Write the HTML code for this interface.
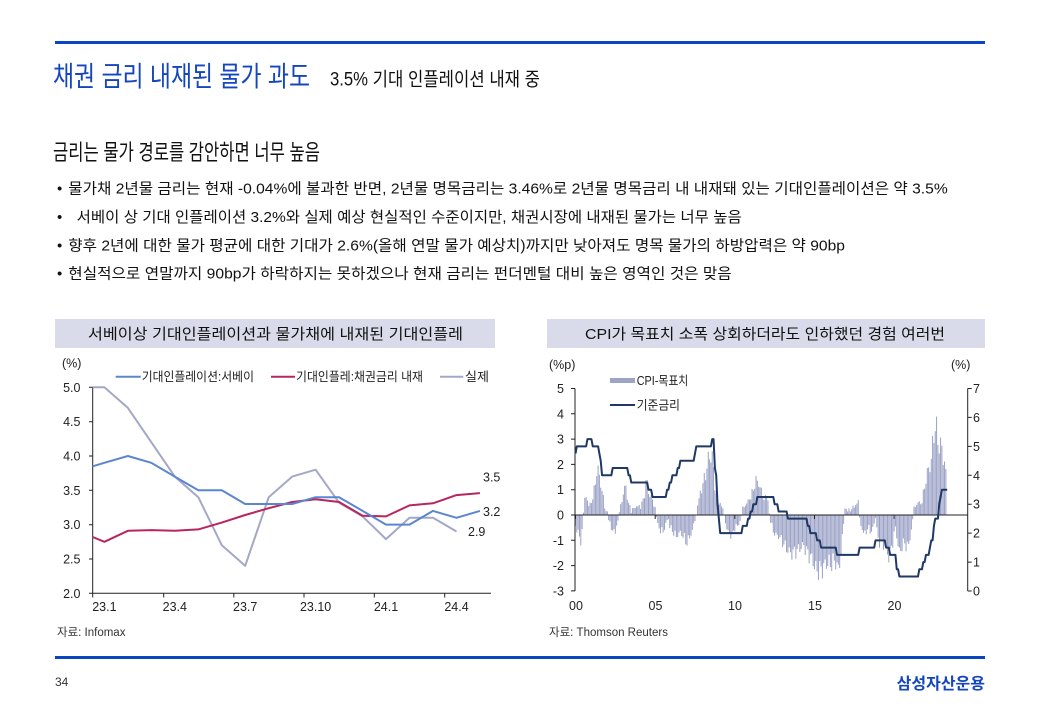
<!DOCTYPE html>
<html><head><meta charset="utf-8"><style>
html,body{margin:0;padding:0;background:#fff;}
svg{display:block;font-family:"Liberation Sans","Noto Sans CJK KR",sans-serif;}
</style></head><body>
<svg width="1040" height="720" viewBox="0 0 1040 720" xmlns="http://www.w3.org/2000/svg">
<rect width="1040" height="720" fill="#fff"/>
<rect x="55" y="41" width="930" height="3" fill="#0a45c3"/>
<text x="53" y="86" font-size="28" fill="#1446bd" textLength="257" lengthAdjust="spacingAndGlyphs">채권 금리 내재된 물가 과도</text>
<text x="330" y="85.5" font-size="19" fill="#111" textLength="210" lengthAdjust="spacingAndGlyphs">3.5% 기대 인플레이션 내재 중</text>
<text x="53" y="160" font-size="22" fill="#111" textLength="267" lengthAdjust="spacingAndGlyphs">금리는 물가 경로를 감안하면 너무 높음</text>

<g font-size="15" fill="#111">
<text x="57" y="193.7">•</text>
<text x="68.3" y="193.7" textLength="879.4" lengthAdjust="spacingAndGlyphs">물가채 2년물 금리는 현재 -0.04%에 불과한 반면, 2년물 명목금리는 3.46%로 2년물 명목금리 내 내재돼 있는 기대인플레이션은 약 3.5%</text>
<text x="57" y="222">•</text>
<text x="76.7" y="222" textLength="665" lengthAdjust="spacingAndGlyphs">서베이 상 기대 인플레이션 3.2%와 실제 예상 현실적인 수준이지만, 채권시장에 내재된 물가는 너무 높음</text>
<text x="57" y="250.4">•</text>
<text x="68.3" y="250.4" textLength="776.7" lengthAdjust="spacingAndGlyphs">향후 2년에 대한 물가 평균에 대한 기대가 2.6%(올해 연말 물가 예상치)까지만 낮아져도 명목 물가의 하방압력은 약 90bp</text>
<text x="57" y="278.7">•</text>
<text x="68.3" y="278.7" textLength="663.4" lengthAdjust="spacingAndGlyphs">현실적으로 연말까지 90bp가 하락하지는 못하겠으나 현재 금리는 펀더멘털 대비 높은 영역인 것은 맞음</text>
</g>

<!-- chart title boxes -->
<rect x="55" y="319" width="440" height="29" fill="#d9dbea"/>
<text x="88" y="339" font-size="15" fill="#111" textLength="375" lengthAdjust="spacingAndGlyphs">서베이상 기대인플레이션과 물가채에 내재된 기대인플레</text>
<rect x="547" y="319" width="438" height="29" fill="#d9dbea"/>
<text x="585" y="339" font-size="15" fill="#111" textLength="360" lengthAdjust="spacingAndGlyphs">CPI가 목표치 소폭 상회하더라도 인하했던 경험 여러번</text>

<!-- LEFT CHART -->
<g font-size="12.5" fill="#222">
<text x="62" y="367.5">(%)</text>
<g text-anchor="end">
<text x="80.5" y="391.8">5.0</text>
<text x="80.5" y="426.2">4.5</text>
<text x="80.5" y="460.5">4.0</text>
<text x="80.5" y="494.8">3.5</text>
<text x="80.5" y="529.2">3.0</text>
<text x="80.5" y="563.5">2.5</text>
<text x="80.5" y="597.8">2.0</text>
</g>
<g text-anchor="middle">
<text x="104.4" y="611">23.1</text>
<text x="174.8" y="611">23.4</text>
<text x="245.2" y="611">23.7</text>
<text x="315.6" y="611">23.10</text>
<text x="386" y="611">24.1</text>
<text x="456.5" y="611">24.4</text>
</g>
<text x="483" y="481.5">3.5</text>
<text x="483" y="516">3.2</text>
<text x="468" y="536">2.9</text>
</g>
<g stroke="#222" stroke-width="1" fill="none">
<path d="M92.7 387.3V593.3H491"/>
<path d="M89 387.3H92.7M89 421.7H92.7M89 456H92.7M89 490.3H92.7M89 524.7H92.7M89 559H92.7M89 593.3H92.7"/>
<path d="M92.7 593.3V597.5M163.7 593.3V597.5M233.8 593.3V597.5M304 593.3V597.5M374.3 593.3V597.5M444.7 593.3V597.5"/>
</g>
<g fill="none" stroke-width="2" stroke-linejoin="round">
<polyline stroke="#a4a8c6" points="92.7,387.3 104.4,387.3 127.9,407.9 151.3,442.2 174.8,476.6 198.3,497.2 221.8,545.2 245.2,565.8 268.7,497.2 292.2,476.6 315.6,469.7 339.1,502.7 362.6,516.4 386,539.1 409.5,517.8 433,517.8 456.5,531.5"/>
<polyline stroke="#b8255f" points="92.7,537 104.4,541.8 127.9,530.8 151.3,530.1 174.8,530.8 198.3,529.4 221.8,522.6 245.2,515 268.7,508.2 292.2,502 315.6,499.2 339.1,502 362.6,515.7 386,516.4 409.5,505.4 433,503.3 456.5,495.1 479.9,493.1"/>
<polyline stroke="#5b86cf" points="92.7,466.3 104.4,462.8 127.9,456 151.3,462.8 174.8,476.6 198.3,490.3 221.8,490.3 245.2,504 268.7,504 292.2,504 315.6,497.2 339.1,497.2 362.6,510.9 386,524.6 409.5,524.6 433,510.9 456.5,517.8 479.9,510.9"/>
</g>
<!-- legend left -->
<g stroke-width="2">
<line x1="115.7" y1="376.7" x2="140.7" y2="376.7" stroke="#5b86cf"/>
<line x1="271" y1="376.7" x2="295" y2="376.7" stroke="#b8255f"/>
<line x1="440" y1="376.7" x2="463.3" y2="376.7" stroke="#a4a8c6"/>
</g>
<g font-size="12.5" fill="#222">
<text x="141.7" y="381.2" textLength="112.3" lengthAdjust="spacingAndGlyphs">기대인플레이션:서베이</text>
<text x="296" y="381.2" textLength="127" lengthAdjust="spacingAndGlyphs">기대인플레:채권금리 내재</text>
<text x="465" y="381.2" textLength="24" lengthAdjust="spacingAndGlyphs">실제</text>
</g>
<text x="57" y="636" font-size="11.5" fill="#333">자료: Infomax</text>

<!-- RIGHT CHART -->
<g font-size="12.5" fill="#222">
<text x="549" y="369">(%p)</text>
<text x="951" y="369">(%)</text>
<g text-anchor="end">
<text x="564" y="393">5</text>
<text x="564" y="418.3">4</text>
<text x="564" y="443.6">3</text>
<text x="564" y="468.9">2</text>
<text x="564" y="494.2">1</text>
<text x="564" y="519.5">0</text>
<text x="564" y="544.8">-1</text>
<text x="564" y="570.1">-2</text>
<text x="564" y="595.4">-3</text>
</g>
<text x="973" y="393">7</text>
<text x="973" y="421.9">6</text>
<text x="973" y="450.9">5</text>
<text x="973" y="479.8">4</text>
<text x="973" y="508.7">3</text>
<text x="973" y="537.6">2</text>
<text x="973" y="566.6">1</text>
<text x="973" y="595.5">0</text>
<g text-anchor="middle">
<text x="576" y="610">00</text>
<text x="655.5" y="610">05</text>
<text x="735" y="610">10</text>
<text x="815" y="610">15</text>
<text x="894.5" y="610">20</text>
</g>
</g>
<path id="bars" fill="none" stroke="#99a0c5" stroke-width="1" d=""/>
<g stroke="#222" stroke-width="1" fill="none">
<path d="M575 388.5V591M571 388.5H575M571 413.8H575M571 439.1H575M571 464.4H575M571 489.7H575M571 515H575M571 540.3H575M571 565.6H575M571 590.9H575"/>
<path d="M967.7 388.5V591M967.7 388.5H971.7M967.7 417.4H971.7M967.7 446.4H971.7M967.7 475.3H971.7M967.7 504.2H971.7M967.7 533.1H971.7M967.7 562.1H971.7M967.7 591H971.7"/>
<path d="M575 515H967.7M575.5 515V519M655.2 515V519M734.8 515V519M814.5 515V519M894.1 515V519"/>
</g>
<polyline id="rate" fill="none" stroke="#1f3866" stroke-width="2" stroke-linejoin="round" points=""/>
<!-- legend right -->
<rect x="610" y="378" width="25" height="5" fill="#9ea4c6"/>
<text x="636.7" y="385" font-size="12.5" fill="#222" textLength="51.6" lengthAdjust="spacingAndGlyphs">CPI-목표치</text>
<line x1="610" y1="405" x2="635" y2="405" stroke="#1f3866" stroke-width="2"/>
<text x="636.7" y="409.5" font-size="12.5" fill="#222" textLength="43.3" lengthAdjust="spacingAndGlyphs">기준금리</text>
<text x="549" y="636" font-size="11.5" fill="#333">자료: Thomson Reuters</text>

<!-- footer -->
<rect x="55" y="656" width="930" height="3" fill="#0a45c3"/>
<text x="55" y="686" font-size="12" fill="#333">34</text>
<text x="985" y="689" font-size="16" font-weight="bold" fill="#1446bd" text-anchor="end">삼성자산운용</text>
</svg>
<script>
(function(){
var anc=[[0,-0.5],[0.2,-0.9],[0.35,-1.3],[0.45,-0.3],[0.55,0.6],[0.7,0.9],[0.85,0.4],[1.0,0.6],[1.2,1.2],[1.35,2.2],[1.5,1.8],[1.7,1.0],[1.85,0.3],[2.0,0.1],[2.15,-0.4],[2.45,-0.9],[2.65,-0.3],[2.8,0.3],[3.0,1.0],[3.15,1.4],[3.3,0.6],[3.5,0.2],[3.8,0.4],[4.1,0.4],[4.3,0.8],[4.45,1.7],[4.6,1.0],[4.9,0.6],[5.05,0.1],[5.2,-0.6],[5.5,-0.8],[5.8,-0.1],[5.9,-0.5],[6.3,-1.0],[6.6,-0.8],[7.0,-1.3],[7.3,-0.8],[7.55,-0.1],[7.7,0.6],[7.9,1.2],[8.1,1.7],[8.35,2.6],[8.55,2.9],[8.7,1.8],[8.85,0.8],[9.1,0.5],[9.3,0.2],[9.5,-0.7],[9.8,-1.0],[10.0,-0.6],[10.3,-0.4],[10.5,0.3],[10.8,0.6],[11.1,1.0],[11.3,1.6],[11.5,1.5],[11.7,1.0],[11.9,0.7],[12.05,1.0],[12.2,-0.2],[12.5,-0.9],[12.8,-1.0],[13.2,-1.5],[13.5,-1.8],[13.8,-1.7],[14.0,-1.6],[14.3,-1.4],[14.6,-1.8],[14.9,-2.1],[15.1,-2.6],[15.5,-2.5],[15.8,-2.2],[16.0,-2.3],[16.3,-2.1],[16.5,-2.6],[16.7,-1.6],[16.85,-0.2],[16.9,0.3],[17.2,0.2],[17.5,0.4],[17.75,0.6],[17.85,-0.3],[18.1,-0.9],[18.4,-0.6],[18.6,-0.8],[18.85,-0.1],[19.0,-1.2],[19.4,-1.4],[19.7,-2.0],[19.9,-1.3],[20.1,-0.5],[20.3,-1.8],[20.6,-1.3],[20.9,-1.5],[21.1,-0.6],[21.25,0.3],[21.5,0.6],[21.7,0.5],[21.85,1.0],[22.0,1.7],[22.2,2.2],[22.35,2.6],[22.5,3.9],[22.55,4.3],[22.7,3.7],[22.85,3.2],[23.0,3.1],[23.15,2.5],[23.3,1.5]];
function interp(t){for(var i=0;i<anc.length-1;i++){if(t>=anc[i][0]&&t<=anc[i+1][0]){var f=(t-anc[i][0])/(anc[i+1][0]-anc[i][0]);return anc[i][1]+f*(anc[i+1][1]-anc[i][1]);}}return anc[anc.length-1][1];}
var d='';
for(var m=0;m<280;m++){var t=m/12;var v=interp(t);v=v*(0.85+0.15*Math.sin(m*1.9))+0.06*Math.sin(m*3.7);var x=575.5+15.93*t;var y1=515-25.3*v;d+='M'+x.toFixed(2)+' 515V'+y1.toFixed(2);}
document.getElementById('bars').setAttribute('d',d);
var ch=[[0,4.75],[1,5.0],[9,5.25],[13,5.0],[18,4.75],[19,4.5],[20,4.0],[28,4.25],[40,4.0],[42,3.75],[55,3.5],[58,3.25],[69,3.5],[71,3.75],[73,4.0],[77,4.25],[79,4.5],[90,4.75],[91,5.0],[103,5.25],[105,4.25],[106,4.0],[107,3.0],[108,2.5],[109,2.0],[126,2.25],[130,2.5],[132,2.75],[134,3.0],[137,3.25],[150,3.0],[153,2.75],[160,2.5],[175,2.25],[177,2.0],[182,1.75],[185,1.5],[197,1.25],[214,1.5],[226,1.75],[234,1.5],[237,1.25],[242,0.75],[244,0.5],[259,0.75],[262,1.0],[264,1.25],[267,1.5],[268,1.75],[270,2.25],[271,2.5],[274,3.0],[275,3.25],[276,3.5]];
var pts=[];var r=4.75;var ci=0;
for(var m=0;m<=280;m++){while(ci<ch.length&&ch[ci][0]<=m){r=ch[ci][1];ci++;}var x=575.5+15.93*m/12;var y=591-28.93*r;pts.push(x.toFixed(2)+','+y.toFixed(2));}
document.getElementById('rate').setAttribute('points',pts.join(' '));
})();
</script>
</body></html>
